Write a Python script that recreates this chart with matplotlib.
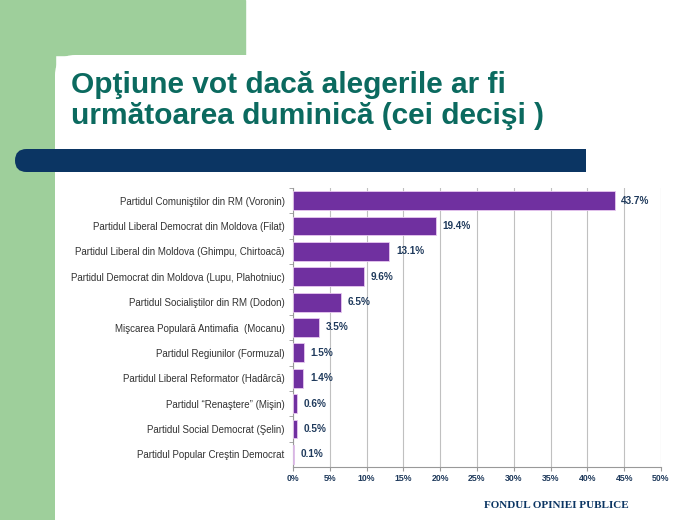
import matplotlib
matplotlib.use("Agg")
import matplotlib.pyplot as plt
from matplotlib.patches import Rectangle, FancyBboxPatch
from matplotlib.ticker import FuncFormatter

parties = [
    "Partidul Comuniştilor din RM (Voronin)",
    "Partidul Liberal Democrat din Moldova (Filat)",
    "Partidul Liberal din Moldova (Ghimpu, Chirtoacă)",
    "Partidul Democrat din Moldova (Lupu, Plahotniuc)",
    "Partidul Socialiştilor din RM (Dodon)",
    "Mişcarea Populară Antimafia  (Mocanu)",
    "Partidul Regiunilor (Formuzal)",
    "Partidul Liberal Reformator (Hadârcă)",
    "Partidul \u201cRenaştere\u201d (Mişin)",
    "Partidul Social Democrat (Şelin)",
    "Partidul Popular Creştin Democrat",
]
shares = [43.7, 19.4, 13.1, 9.6, 6.5, 3.5, 1.5, 1.4, 0.6, 0.5, 0.1]
x_ticks = [0, 5, 10, 15, 20, 25, 30, 35, 40, 45, 50]

TITLE_1 = "Opţiune vot dacă alegerile ar fi"
TITLE_2 = "următoarea duminică (cei decişi )"
FOOTER = "FONDUL OPINIEI PUBLICE"

GREEN = "#9ecf9b"
TEAL = "#0b6a5f"
NAVY = "#0b3563"
PURPLE = "#7030a0"
LABEL_CLR = "#1f3a5c"

plt.rcParams["font.family"] = ["Liberation Sans", "DejaVu Sans"]

fig = plt.figure(figsize=(7, 5.2), dpi=100)
fig.patch.set_facecolor("white")

# ── fundal slide (coordonate în pixeli) ─────────────────────────────
bg = fig.add_axes([0, 0, 1, 1], zorder=0)
bg.set_xlim(0, 700)
bg.set_ylim(520, 0)
bg.axis("off")
bg.add_patch(Rectangle((0, 0), 55, 520, color=GREEN))
bg.add_patch(Rectangle((0, 0), 245, 55, color=GREEN))
bg.add_patch(FancyBboxPatch((55, 55), 700, 520, boxstyle="round,pad=0,rounding_size=20",
                            fc="white", ec="none"))
# bara bleumarin: capăt stâng rotunjit, capăt drept drept
bg.add_patch(FancyBboxPatch((15, 149), 540, 23, boxstyle="round,pad=0,rounding_size=11.5",
                            fc=NAVY, ec="none"))
bg.add_patch(Rectangle((500, 149), 86, 23, fc=NAVY, ec="none"))

title_kw = dict(ha="left", va="baseline", fontsize=21.5, fontweight="bold", color=TEAL)
bg.text(71, 93, TITLE_1, **title_kw)
bg.text(71, 124, TITLE_2, **title_kw)

bg.text(556, 505, FOOTER, ha="center", va="center", fontsize=8,
        fontweight="bold", color=NAVY, family=["Liberation Serif", "DejaVu Serif"])

# ── grafic ──────────────────────────────────────────────────────────
ax = fig.add_axes([293 / 700, 1 - 467 / 520, 368 / 700, 279 / 520], zorder=4)
ax.set_facecolor("none")
ypos = list(range(len(parties)))
ax.barh(ypos, shares, height=0.74, color=PURPLE, edgecolor="#e8c8f0",
        linewidth=0.6, zorder=3)
for y, v in zip(ypos, shares):
    ax.text(v + 0.9, y, f"{v:.1f}%", va="center", ha="left", fontsize=7.2,
            fontweight="bold", color=LABEL_CLR, zorder=4)

ax.set_ylim(len(parties) - 0.5, -0.5)
ax.set_xlim(0, 50)
ax.set_xticks(x_ticks)
ax.xaxis.set_major_formatter(FuncFormatter(lambda v, _: f"{v:.0f}%"))
ax.set_yticks(ypos)
ax.set_yticklabels(parties)
ax.set_yticks([y + 0.5 for y in ypos[:-1]] + [-0.5], minor=True)
ax.tick_params(axis="y", which="major", length=0, pad=6, labelsize=7.0,
               labelcolor="#333333")
ax.tick_params(axis="y", which="minor", length=3, color="#999999")
ax.tick_params(axis="x", length=3, color="#999999", labelsize=6.3,
               labelcolor=LABEL_CLR, pad=2)
for lbl in ax.get_xticklabels():
    lbl.set_fontweight("bold")
ax.grid(axis="x", color="#c0c0c0", lw=0.8, zorder=0)
for s in ["top", "right"]:
    ax.spines[s].set_visible(False)
for s in ["left", "bottom"]:
    ax.spines[s].set_color("#999999")
    ax.spines[s].set_linewidth(0.8)

fig.savefig("out.png", dpi=100, facecolor="white")
